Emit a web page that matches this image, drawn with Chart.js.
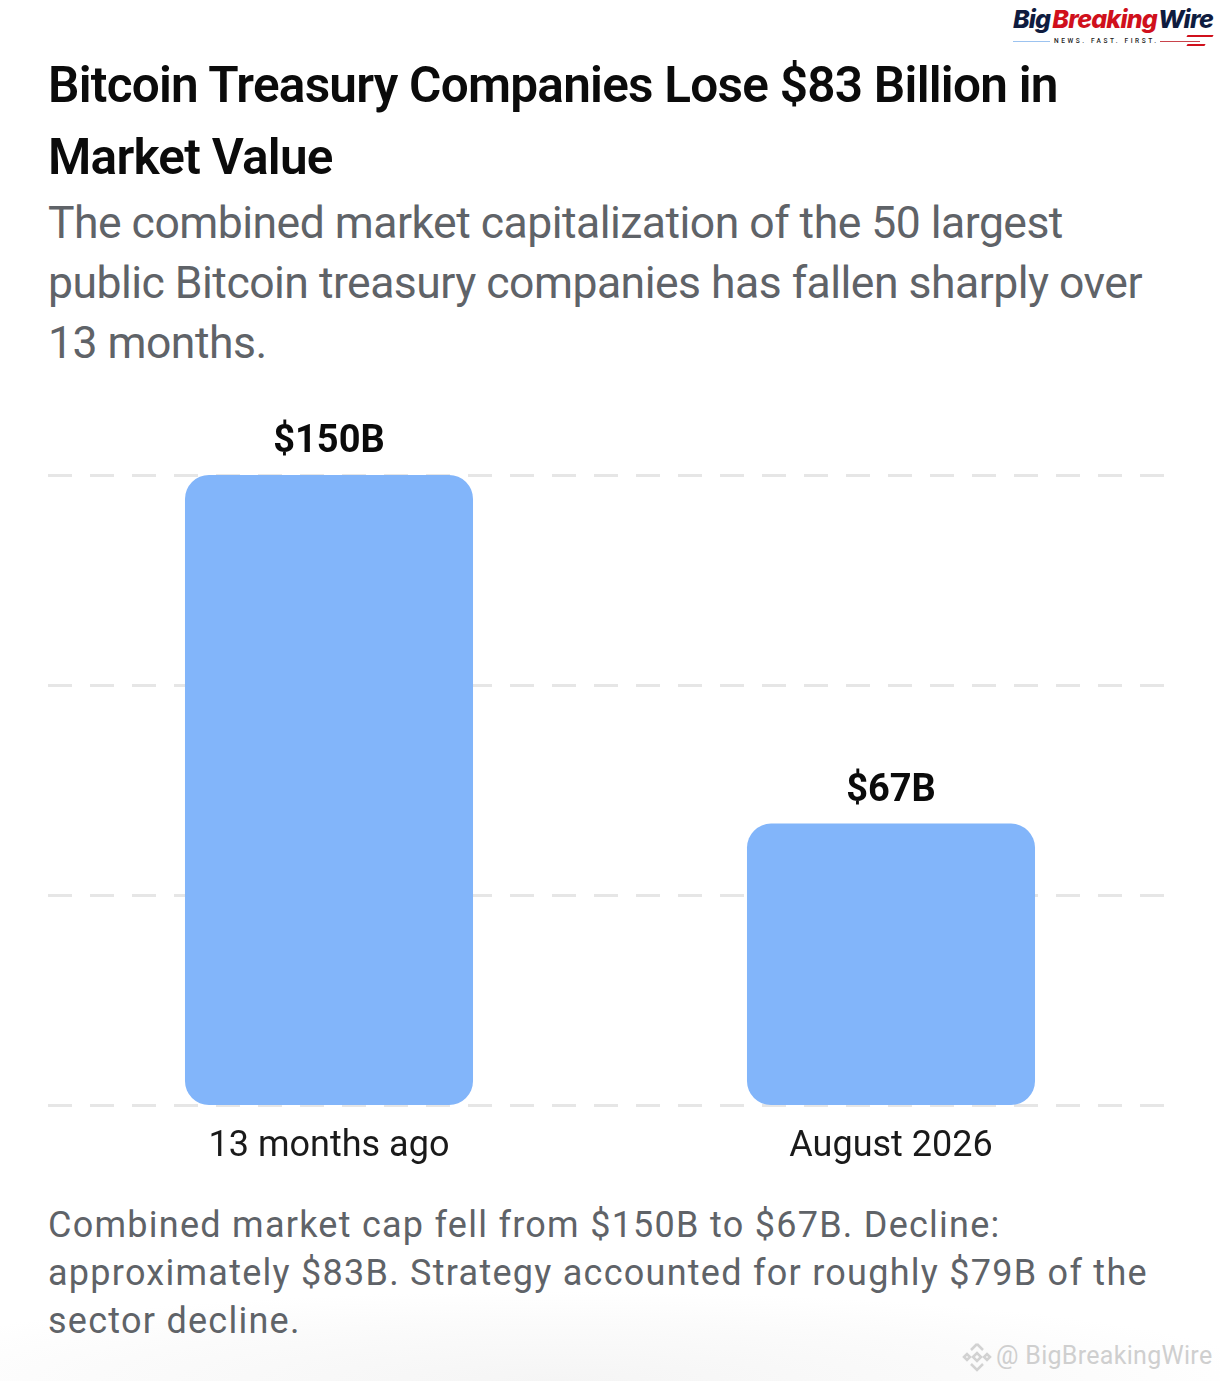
<!DOCTYPE html>
<html lang="en">
<head>
<meta charset="UTF-8">
<title>Bitcoin Treasury Companies Lose $83 Billion in Market Value</title>
<script src="https://cdn.jsdelivr.net/npm/chart.js"></script>
<style>
    html, body { margin: 0; padding: 0; background: #fff; }
    body { position: relative; width: 1220px; height: 1381px; overflow: hidden; font-family: Roboto, sans-serif; }
    .abs { position: absolute; white-space: nowrap; }
    .title { left: 48px; font-size: 49.5px; line-height: 72px; font-weight: 600; color: #0b0b0b; letter-spacing: -0.75px; }
    .sub { left: 48px; font-size: 44.5px; line-height: 60px; color: #5f6368; letter-spacing: -0.52px; }
    .note { left: 48px; font-size: 36px; line-height: 48px; color: #5f6368; letter-spacing: 1.26px; }
    #fade { left: 0; top: 1290px; width: 1220px; height: 91px; background: radial-gradient(ellipse 720px 90px at 560px 100%, #f5f5f5 0%, #fbfbfb 65%, #fff 100%); }
    #chartWrap { left: 0; top: 400px; width: 1220px; height: 800px; }
    .logo { font-family: Inter, sans-serif; font-style: italic; font-weight: 800; font-size: 25px; letter-spacing: -0.8px; }
    .tag { left: 1054px; top: 37px; font-size: 6.5px; letter-spacing: 2.6px; color: #222; font-weight: 500; }
    .mark { left: 996px; top: 1341px; font-size: 25px; color: #cfcfcf; letter-spacing: 0.3px; }
</style>
</head>
<body>
    <div id="fade" class="abs"></div>

    <div class="abs logo" style="left:1013px;top:4px"><span style="color:#0f1c3f">Big</span><span style="color:#d0101c;margin-left:2px">Breaking</span><span style="color:#0f1c3f;margin-left:1px">Wire</span></div>
    <div class="abs" style="left:1013px;top:41px;width:37px;height:1px;background:#9cc3f0"></div>
    <div class="abs tag">NEWS. FAST. FIRST.</div>
    <div class="abs" style="left:1160px;top:41px;width:40px;height:1px;background:#c9434b"></div>
    <div class="abs" style="left:1187px;top:35px;width:26px;height:2px;background:#d0101c;transform:skewX(-30deg)"></div>
    <div class="abs" style="left:1187px;top:44px;width:18px;height:2px;background:#d0101c;transform:skewX(-30deg)"></div>

    <div class="abs title" style="top:49px">Bitcoin Treasury Companies Lose $83 Billion in</div>
    <div class="abs title" style="top:121px">Market Value</div>
    <div class="abs sub" style="top:193px">The combined market capitalization of the 50 largest</div>
    <div class="abs sub" style="top:253px">public Bitcoin treasury companies has fallen sharply over</div>
    <div class="abs sub" style="top:313px">13 months.</div>

    <div id="chartWrap" class="abs"><canvas id="chart" width="1220" height="800"></canvas></div>

    <div class="abs note" style="top:1201px">Combined market cap fell from $150B to $67B. Decline:</div>
    <div class="abs note" style="top:1249px">approximately $83B. Strategy accounted for roughly $79B of the</div>
    <div class="abs note" style="top:1297px">sector decline.</div>

    <svg class="abs" style="left:962px;top:1342px" width="30" height="30" viewBox="0 0 30 30" fill="none" stroke="#d2d2d2" stroke-width="2.5">
        <path d="M15 2 L21 8 M15 2 L9 8 M2 15 L5 12 L8 15 L5 18 Z M28 15 L25 12 L22 15 L25 18 Z M11 15 L15 11 L19 15 L15 19 Z M9 22 L15 28 L21 22"/>
    </svg>
    <div class="abs mark">@ BigBreakingWire</div>

    <script>
        const categories = ['13 months ago', 'August 2026'];
        const capValues = [150, 67];
        const valueLabels = ['$150B', '$67B'];
        const axisTicks = [0, 50, 100, 150];

        // draws the numbers sitting above each bar
        const barLabels = {
            id: 'barLabels',
            afterDatasetsDraw(chart) {
                const c = chart.ctx;
                c.save();
                c.font = '700 38px Roboto';
                c.fillStyle = '#0b0b0b';
                c.textAlign = 'center';
                c.textBaseline = 'alphabetic';
                chart.getDatasetMeta(0).data.forEach((bar, i) => {
                    c.fillText(valueLabels[i], bar.x, bar.y - 23);
                });
                c.restore();
            }
        };

        new Chart(document.getElementById('chart'), {
            type: 'bar',
            data: {
                labels: categories,
                datasets: [{
                    data: capValues,
                    backgroundColor: '#82b5fa',
                    borderRadius: 24,
                    borderSkipped: false,
                    categoryPercentage: 1,
                    barPercentage: 0.5125
                }]
            },
            options: {
                responsive: false,
                animation: false,
                layout: { padding: { left: 48, right: 48, top: 75, bottom: 0 } },
                plugins: { legend: { display: false }, tooltip: { enabled: false } },
                scales: {
                    x: {
                        grid: { display: false },
                        border: { display: false },
                        ticks: { color: '#1a1a1a', font: { family: 'Roboto', size: 36 }, padding: 12, maxRotation: 0 },
                        afterFit(scale) { scale.height = 95; }
                    },
                    y: {
                        display: true,
                        min: 0,
                        max: 150,
                        afterBuildTicks(scale) {
                            scale.ticks = axisTicks.map(v => ({ value: v }));
                            // bars lift off the base by half a grid line otherwise
                            scale.getLineWidthForValue = () => 0;
                        },
                        afterFit(scale) { scale.width = 0; },
                        ticks: { display: false },
                        border: { display: false, dash: [24, 18] },
                        grid: { color: '#e6e6e6', lineWidth: 3, drawTicks: false }
                    }
                }
            },
            plugins: [barLabels]
        });
    </script>
</body>
</html>
